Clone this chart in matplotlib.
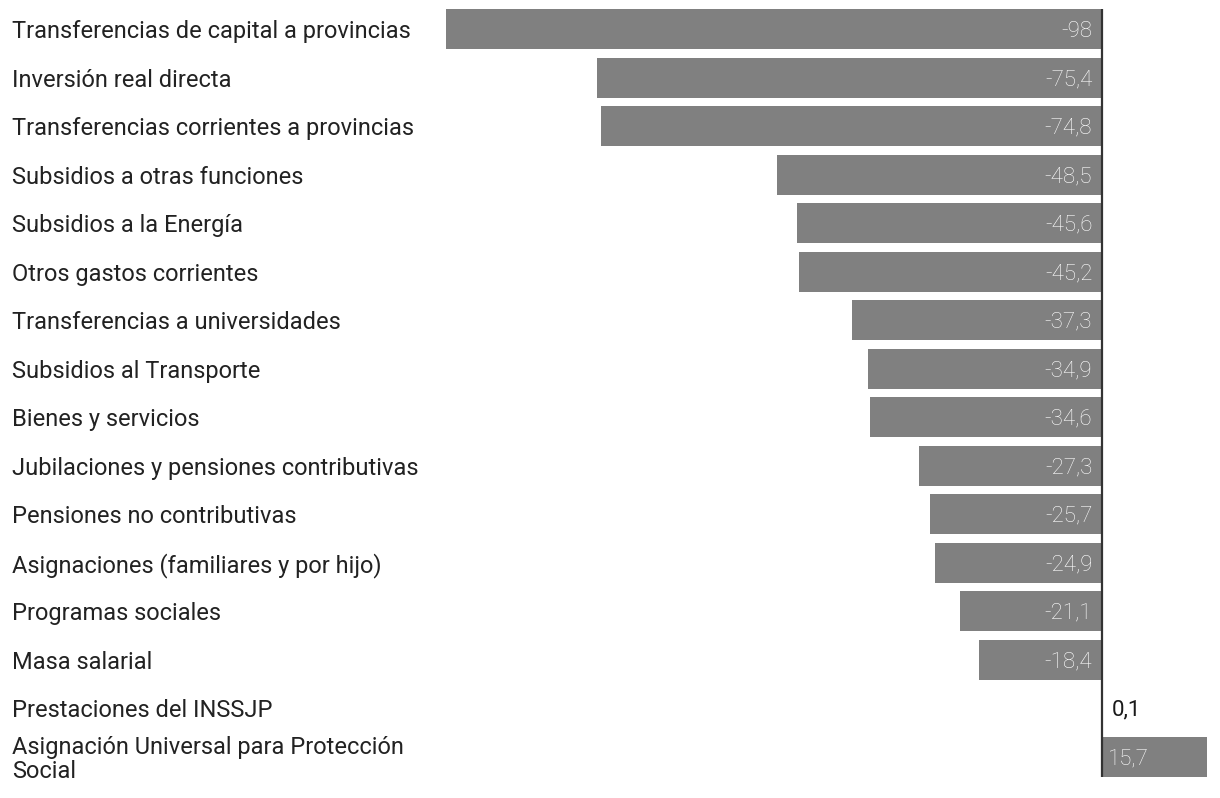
import matplotlib.pyplot as plt
import matplotlib.transforms as mtransforms

categorias = [
    "Transferencias de capital a provincias",
    "Inversión real directa",
    "Transferencias corrientes a provincias",
    "Subsidios a otras funciones",
    "Subsidios a la Energía",
    "Otros gastos corrientes",
    "Transferencias a universidades",
    "Subsidios al Transporte",
    "Bienes y servicios",
    "Jubilaciones y pensiones contributivas",
    "Pensiones no contributivas",
    "Asignaciones (familiares y por hijo)",
    "Programas sociales",
    "Masa salarial",
    "Prestaciones del INSSJP",
    "Asignación Universal para Protección\nSocial",
]
valores = [-98, -75.4, -74.8, -48.5, -45.6, -45.2, -37.3, -34.9, -34.6,
           -27.3, -25.7, -24.9, -21.1, -18.4, 0.1, 15.7]

W, H = 1220, 798
fig = plt.figure(figsize=(W / 100, H / 100), dpi=100)
ax = fig.add_axes([446 / W, 1 - 781 / H, (1208 - 446) / W, 776 / H])

y = list(range(len(valores)))
ax.barh(y, valores, height=0.82, color="#808080")
ax.set_xlim(-98, 15.9)
ax.set_ylim(len(valores) - 0.5, -0.5)
ax.vlines(0, -0.42, len(valores) - 0.58, color="#333333", linewidth=1.6)
ax.axis("off")

fuente = "Roboto"
trans = mtransforms.blended_transform_factory(fig.transFigure, ax.transData)
for i, (cat, v) in enumerate(zip(categorias, valores)):
    ax.text(12 / W, i + 0.05, cat, transform=trans, ha="left", va="center",
            fontsize=17, family=fuente, color="#222222", linespacing=1.05)
    txt = f"{v:g}".replace(".", ",")
    if v < 0:
        ax.text(-1.4, i + 0.04, txt, ha="right", va="center", fontsize=16,
                family=fuente, fontweight="light", color="white")
    elif v > 5:
        ax.text(1.0, i + 0.04, txt, ha="left", va="center", fontsize=16,
                family=fuente, fontweight="light", color="white")
    else:
        ax.text(v + 1.4, i + 0.04, txt, ha="left", va="center", fontsize=16,
                family=fuente, color="#1a1a1a")

fig.savefig("out.png", dpi=100)
